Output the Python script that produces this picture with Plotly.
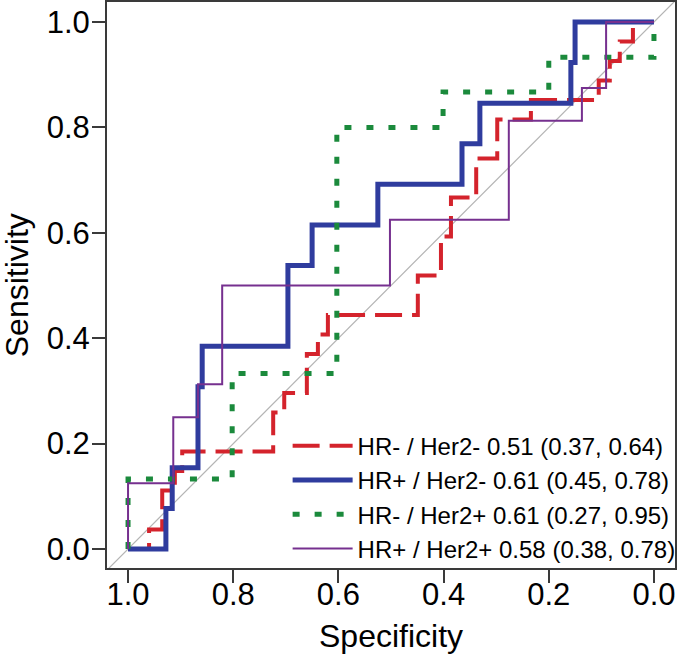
import plotly.graph_objects as go

# ROC coordinates (specificity, sensitivity)
names = ["HR- / Her2- 0.51 (0.37, 0.64)",
         "HR+ / Her2- 0.61 (0.45, 0.78)",
         "HR- / Her2+ 0.61 (0.27, 0.95)",
         "HR+ / Her2+ 0.58 (0.38, 0.78)"]

spec_hrneg_her2neg = [1.0, 0.960, 0.960, 0.935, 0.935, 0.911, 0.911, 0.897, 0.897, 0.724, 0.724,
                      0.703, 0.703, 0.660, 0.660, 0.639, 0.639, 0.620, 0.620, 0.449, 0.449, 0.405,
                      0.405, 0.386, 0.386, 0.338, 0.338, 0.298, 0.298, 0.234, 0.234, 0.105, 0.105,
                      0.084, 0.084, 0.065, 0.065, 0.040, 0.040, 0.0]
sens_hrneg_her2neg = [0.0, 0.0, 0.037, 0.037, 0.111, 0.111, 0.148, 0.148, 0.185, 0.185, 0.259,
                      0.259, 0.296, 0.296, 0.370, 0.370, 0.407, 0.407, 0.444, 0.444, 0.519, 0.519,
                      0.593, 0.593, 0.667, 0.667, 0.741, 0.741, 0.815, 0.815, 0.852, 0.852, 0.889,
                      0.889, 0.926, 0.926, 0.963, 0.963, 1.0, 1.0]

spec_hrpos_her2neg = [1.0, 0.928, 0.928, 0.916, 0.916, 0.867, 0.867, 0.859, 0.859, 0.696, 0.696,
                      0.650, 0.650, 0.525, 0.525, 0.365, 0.365, 0.331, 0.331, 0.158, 0.158, 0.150,
                      0.150, 0.0]
sens_hrpos_her2neg = [0.0, 0.0, 0.077, 0.077, 0.154, 0.154, 0.308, 0.308, 0.385, 0.385, 0.538,
                      0.538, 0.615, 0.615, 0.692, 0.692, 0.769, 0.769, 0.846, 0.846, 0.923, 0.923,
                      1.0, 1.0]

spec_hrneg_her2pos = [1.0, 1.0, 0.802, 0.802, 0.603, 0.603, 0.401, 0.401, 0.200, 0.200, 0.0, 0.0]
sens_hrneg_her2pos = [0.0, 0.133, 0.133, 0.333, 0.333, 0.800, 0.800, 0.867, 0.867, 0.933, 0.933, 1.0]

spec_hrpos_her2pos = [1.0, 1.0, 0.914, 0.914, 0.867, 0.867, 0.821, 0.821, 0.502, 0.502, 0.276,
                      0.276, 0.137, 0.137, 0.091, 0.091, 0.0]
sens_hrpos_her2pos = [0.0, 0.125, 0.125, 0.250, 0.250, 0.3125, 0.3125, 0.500, 0.500, 0.625, 0.625,
                      0.8125, 0.8125, 0.875, 0.875, 1.0, 1.0]

ticks = [1.0, 0.8, 0.6, 0.4, 0.2, 0.0]
tick_text = ["1.0", "0.8", "0.6", "0.4", "0.2", "0.0"]

FONT = "Liberation Sans, Arial, Helvetica, sans-serif"

fig = go.Figure()

# reference diagonal
fig.add_trace(go.Scatter(x=[1.1, -0.1], y=[-0.1, 1.1], mode="lines",
                         line=dict(color="#b4b4b4", width=1.2),
                         showlegend=False, hoverinfo="skip"))

series = [
    (spec_hrneg_her2neg, sens_hrneg_her2neg, "#d4232c", 4, "27px,10px"),
    (spec_hrpos_her2neg, sens_hrpos_her2neg, "#2f3c9e", 5, "solid"),
    (spec_hrneg_her2pos, sens_hrneg_her2pos, "#1b8a3c", 5, "7px,15px"),
    (spec_hrpos_her2pos, sens_hrpos_her2pos, "#76308f", 2, "solid"),
]
for (sx, sy, col, w, dash), nm in zip(series, names):
    fig.add_trace(go.Scatter(x=sx, y=sy, mode="lines", name=nm,
                             line=dict(color=col, width=w, dash=dash)))

axis_common = dict(showgrid=False, zeroline=False, showline=True, mirror=True,
                   linecolor="#3a3a3a", linewidth=2, ticks="outside", ticklen=13,
                   tickwidth=2, tickcolor="#3a3a3a", automargin=False,
                   tickfont=dict(family=FONT, size=31, color="black"))

fig.update_xaxes(range=[1.04, -0.04], tickvals=ticks, ticktext=tick_text,
                 ticklabelstandoff=-15, **axis_common)
fig.update_yaxes(range=[-0.036, 1.038], tickvals=ticks, ticktext=tick_text,
                 ticklabelstandoff=-4, **axis_common)

fig.update_layout(
    width=677, height=659,
    margin=dict(l=107, r=2, t=2, b=91, autoexpand=False),
    paper_bgcolor="white", plot_bgcolor="white",
    font=dict(family=FONT, color="black"),
    legend=dict(x=0.318, y=0.125, xanchor="left", yanchor="middle",
                bgcolor="rgba(0,0,0,0)", font=dict(family=FONT, size=24, color="black"),
                itemwidth=60, tracegroupgap=0),
    annotations=[
        dict(text="Specificity", xref="paper", yref="paper", x=0.5, y=-0.12,
             xanchor="center", yanchor="middle", showarrow=False,
             font=dict(family=FONT, size=32, color="black")),
        dict(text="Sensitivity", xref="paper", yref="paper", x=-0.158, y=0.5,
             xanchor="center", yanchor="middle", showarrow=False, textangle=-90,
             font=dict(family=FONT, size=32, color="black")),
    ],
)

fig.write_html("out.html", config={"displayModeBar": False},
               post_script="document.body.style.margin='0';")
